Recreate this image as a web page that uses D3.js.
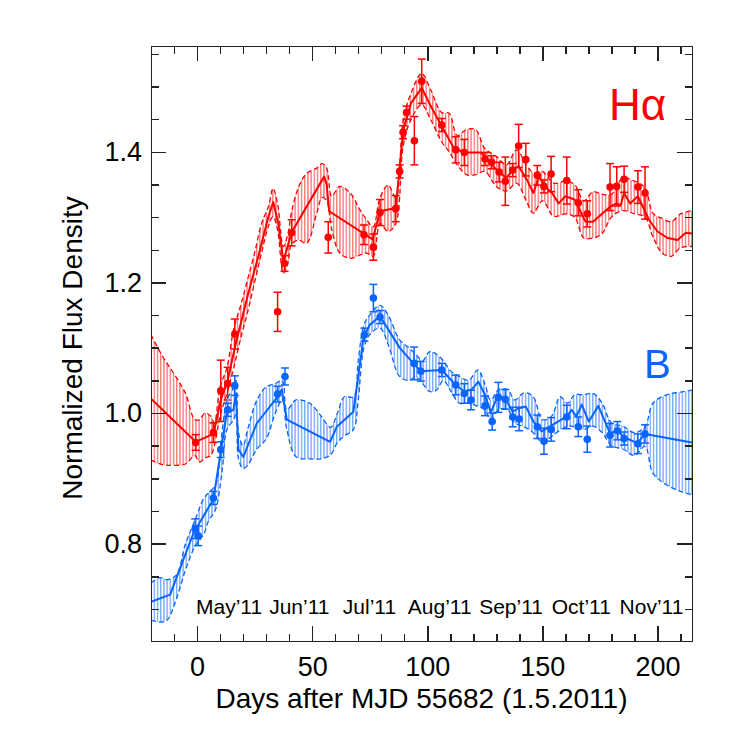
<!DOCTYPE html>
<html lang="en">
<head>
    <meta charset="UTF-8">
    <title>Normalized Flux Density</title>
    <script type="text/javascript" src="https://cdn.jsdelivr.net/npm/d3@7"></script>
    <style>
        body { margin: 0; background: #fff; }
        svg { font-family: "Liberation Sans", Arial, sans-serif; }
        .axis path, .axis line { fill: none; stroke: #222; stroke-width: 1.5; shape-rendering: crispEdges; }
        .axis text { font-size: 27px; fill: #000; }
    </style>
</head>
<body>
    <script type="text/javascript">
        // Halpha model curve
        let haLineDay = [-20, -0.6, 7.1, 10.3, 13.3, 16.4, 22, 27, 31, 33.1, 35.3, 37.5, 41.1, 55.2, 56.3, 57.4, 76.3, 79.5, 86.3, 89.6, 93, 97.6, 101.5, 106.3, 111.5, 116.1, 123.3, 127, 130.7, 134.4, 137.1, 139.7, 143.3, 146.1, 148.5, 151.2, 154.2, 157.1, 160, 164, 168.8, 172, 179.4, 182.3, 184, 185.5, 188.1, 191.5, 196.3, 200, 204.4, 208.7, 212.3, 215]
        let haLineVal = [1.022, 0.956, 0.968, 1.02, 1.05, 1.10, 1.18, 1.245, 1.301, 1.323, 1.29, 1.232, 1.277, 1.362, 1.35, 1.309, 1.266, 1.309, 1.314, 1.434, 1.475, 1.498, 1.47, 1.439, 1.406, 1.399, 1.399, 1.385, 1.370, 1.36, 1.372, 1.378, 1.357, 1.337, 1.362, 1.347, 1.337, 1.321, 1.332, 1.327, 1.293, 1.293, 1.316, 1.321, 1.318, 1.337, 1.321, 1.332, 1.296, 1.278, 1.268, 1.265, 1.276, 1.275]
        // Halpha uncertainty band
        let haBandDay = [-20, -15, -10, -5, -1, 1, 3.5, 6, 7.5, 10, 13, 16, 19, 22, 25, 28, 31, 33, 35, 37.5, 39.5, 41, 44, 47.6, 52, 54.3, 56.3, 58.5, 62, 66.5, 70.8, 73.7, 76.5, 79.5, 83, 86.3, 89.6, 93, 97.6, 101.5, 106.3, 109.5, 113, 117, 121, 125, 130, 134.4, 138.8, 143, 146.1, 150, 155, 160, 164, 168, 172, 176, 180, 185, 190, 194.6, 198, 202, 206, 210, 215]
        let haBandLo = [0.928, 0.921, 0.920, 0.922, 0.935, 0.925, 0.931, 0.935, 0.950, 0.995, 1.03, 1.07, 1.115, 1.155, 1.20, 1.245, 1.286, 1.301, 1.28, 1.214, 1.23, 1.258, 1.265, 1.260, 1.306, 1.33, 1.325, 1.281, 1.245, 1.237, 1.242, 1.245, 1.24, 1.29, 1.278, 1.29, 1.41, 1.45, 1.472, 1.449, 1.415, 1.40, 1.38, 1.365, 1.365, 1.37, 1.347, 1.34, 1.352, 1.325, 1.306, 1.325, 1.301, 1.305, 1.30, 1.268, 1.268, 1.275, 1.30, 1.31, 1.305, 1.30, 1.270, 1.245, 1.240, 1.253, 1.255]
        let haBandHi = [1.120, 1.087, 1.06, 1.03, 0.99, 0.99, 1.000, 0.995, 0.985, 1.04, 1.07, 1.13, 1.165, 1.205, 1.245, 1.29, 1.316, 1.344, 1.32, 1.255, 1.275, 1.307, 1.345, 1.367, 1.375, 1.382, 1.375, 1.332, 1.347, 1.337, 1.311, 1.296, 1.285, 1.33, 1.349, 1.33, 1.45, 1.49, 1.520, 1.495, 1.46, 1.459, 1.425, 1.434, 1.434, 1.405, 1.393, 1.38, 1.403, 1.38, 1.368, 1.37, 1.352, 1.355, 1.35, 1.325, 1.339, 1.335, 1.335, 1.36, 1.355, 1.345, 1.306, 1.298, 1.293, 1.305, 1.310]
        // Halpha measurements
        let haObsDay = [-0.6, 7.1, 10.3, 13.3, 16.4, 35, 38, 41.1, 57.0, 72.5, 76.6, 79.5, 86.3, 88, 89.5, 91, 94.4, 97.6, 106.3, 112.4, 116.1, 125.1, 128.0, 131.2, 133.9, 137.1, 139.7, 142.8, 147.8, 150.7, 153.8, 160.6, 165.6, 169.5, 179.4, 182.3, 185.5, 191.5, 194.6]
        let haObsVal = [0.955, 0.970, 1.034, 1.045, 1.121, 1.155, 1.229, 1.276, 1.269, 1.273, 1.254, 1.307, 1.313, 1.37, 1.43, 1.46, 1.417, 1.508, 1.441, 1.403, 1.399, 1.389, 1.384, 1.369, 1.355, 1.372, 1.409, 1.388, 1.364, 1.347, 1.366, 1.356, 1.322, 1.305, 1.346, 1.347, 1.358, 1.346, 1.337]
        let haObsErr = [0.012, 0.015, 0.047, 0.025, 0.023, 0.03, 0.012, 0.02, 0.024, 0.015, 0.02, 0.02, 0.02, 0.01, 0.01, 0.01, 0.037, 0.034, 0.01, 0.02, 0.02, 0.01, 0.01, 0.015, 0.037, 0.01, 0.033, 0.025, 0.015, 0.01, 0.027, 0.036, 0.02, 0.02, 0.036, 0.03, 0.02, 0.025, 0.04]

        // B model curve
        let bLineDay = [-20, -11.7, -1.6, 7.1, 12.9, 15.8, 16.9, 18, 20.1, 25.9, 35, 36.8, 39, 57.8, 60.7, 67.9, 72.3, 75, 79.5, 88.2, 94.3, 97.2, 106.3, 112.4, 116.1, 119.3, 122.2, 125.1, 127.6, 130.5, 133.9, 137.1, 139.5, 142.8, 146.1, 149.7, 152.6, 160.6, 162.7, 164.8, 167.1, 170.2, 174.3, 179.4, 182.6, 185.5, 191.3, 194.6, 215]
        let bLineVal = [0.711, 0.722, 0.816, 0.868, 1.000, 1.005, 1.03, 0.944, 0.933, 0.984, 1.025, 1.036, 0.990, 0.956, 0.979, 1.002, 1.115, 1.135, 1.148, 1.099, 1.075, 1.064, 1.066, 1.043, 1.033, 1.036, 1.048, 1.028, 1.001, 1.025, 1.022, 1.002, 1.007, 1.010, 0.987, 0.972, 0.978, 0.995, 1.005, 0.995, 1.013, 0.987, 1.011, 0.969, 0.973, 0.963, 0.954, 0.968, 0.955]
        // B uncertainty band
        let bBandDay = [-20, -16, -13, -9, -5, -1, 3, 5, 8, 11, 13, 16, 17, 18, 20, 22, 26, 30, 34, 37, 39, 43, 49, 54, 58, 61, 64, 68, 70, 72.5, 75, 79.5, 83, 88, 92, 95, 98, 101, 104, 107, 110, 114, 118, 122, 125, 127.5, 131, 135, 138, 142, 146, 150, 154, 157.7, 161, 164, 168, 172, 176, 180, 185, 190, 194.6, 198, 204, 210, 215]
        let bBandLo = [0.683, 0.680, 0.683, 0.715, 0.760, 0.795, 0.815, 0.835, 0.852, 0.915, 0.975, 0.99, 1.0, 0.93, 0.915, 0.92, 0.945, 0.96, 1.0, 1.02, 0.975, 0.933, 0.930, 0.930, 0.936, 0.955, 0.965, 0.975, 1.02, 1.10, 1.12, 1.13, 1.105, 1.056, 1.05, 1.055, 1.045, 1.033, 1.035, 1.05, 1.035, 1.015, 1.015, 1.010, 1.005, 0.990, 1.005, 1.005, 0.985, 0.979, 0.970, 0.955, 0.964, 0.974, 0.980, 0.979, 0.975, 0.980, 0.970, 0.950, 0.945, 0.935, 0.949, 0.908, 0.890, 0.880, 0.875]
        let bBandHi = [0.740, 0.748, 0.745, 0.752, 0.800, 0.835, 0.870, 0.878, 0.890, 0.975, 1.02, 1.04, 1.05, 0.97, 0.95, 0.975, 1.02, 1.04, 1.045, 1.05, 1.005, 1.02, 1.015, 0.995, 0.978, 1.0, 1.025, 1.025, 1.08, 1.135, 1.15, 1.165, 1.15, 1.112, 1.10, 1.09, 1.08, 1.094, 1.09, 1.08, 1.065, 1.056, 1.05, 1.066, 1.045, 1.020, 1.036, 1.036, 1.02, 1.031, 1.025, 0.99, 0.995, 1.025, 1.015, 1.028, 1.028, 1.03, 1.015, 0.985, 0.980, 0.970, 0.979, 1.015, 1.028, 1.032, 1.035]
        // B measurements
        let bObsDay = [-0.8, 0.5, 7.1, 10.3, 13.3, 16.4, 35, 38.2, 72.7, 76.6, 79.5, 94.3, 97.2, 106.3, 112.4, 116.1, 119, 125.1, 128.2, 130.9, 133.9, 137.1, 139.9, 147.8, 150.7, 153.8, 160.6, 165.6, 169.5, 179.4, 182.6, 185.5, 191.5, 194.6]
        let bObsVal = [0.823, 0.812, 0.870, 0.944, 1.005, 1.042, 1.029, 1.056, 1.120, 1.176, 1.147, 1.076, 1.064, 1.066, 1.043, 1.030, 1.020, 1.011, 0.987, 1.024, 1.021, 0.994, 0.991, 0.979, 0.957, 0.975, 0.994, 0.979, 0.960, 0.966, 0.973, 0.961, 0.953, 0.968]
        let bObsErr = [0.015, 0.015, 0.01, 0.012, 0.01, 0.015, 0.012, 0.013, 0.01, 0.021, 0.01, 0.025, 0.015, 0.01, 0.015, 0.015, 0.015, 0.015, 0.013, 0.023, 0.015, 0.015, 0.018, 0.018, 0.02, 0.018, 0.018, 0.015, 0.02, 0.018, 0.014, 0.01, 0.015, 0.014]

        let monthLabels = ["May’11", "Jun’11", "Jul’11", "Aug’11", "Sep’11", "Oct’11", "Nov’11"]
        let monthMid = [15, 45.5, 76, 106.5, 137.5, 168, 198.5]
        let xTicks = [0, 50, 100, 150, 200]
        let yTicks = [0.8, 1.0, 1.2, 1.4]

        let w = 737, h = 737
        let mLeft = 151, mRight = 692, mTop = 46, mBottom = 641

        let xScale = d3.scaleLinear().domain([-20, 215]).range([mLeft, mRight])
        let yScale = d3.scaleLinear().domain([0.651, 1.562]).range([mBottom, mTop])

        let svg = d3.select("body").append("svg")
            .attr("width", w)
            .attr("height", h)

        let defs = svg.append("defs")
        defs.append("clipPath").attr("id", "plotclip")
            .append("rect").attr("x", mLeft).attr("y", mTop)
            .attr("width", mRight - mLeft).attr("height", mBottom - mTop)

        function hatch(id, color) {
            let p = defs.append("pattern").attr("id", id)
                .attr("patternUnits", "userSpaceOnUse")
                .attr("width", 3.2).attr("height", 10)
            p.append("rect").attr("x", 0).attr("y", 0)
                .attr("width", 1.4).attr("height", 10).attr("fill", color)
        }
        hatch("hatchR", "#ff7a7a")
        hatch("hatchB", "#7aaaff")

        let plot = svg.append("g").attr("clip-path", "url(#plotclip)")

        function drawSeries(lineDay, lineVal, bandDay, bandLo, bandHi, obsDay, obsVal, obsErr, color, hatchId) {
            let band = bandDay.map((d, i) => ({ d: d, lo: bandLo[i], hi: bandHi[i] }))
            let curve = d3.curveCatmullRom.alpha(0.5)
            let area = d3.area()
                .x((p) => xScale(p.d))
                .y0((p) => yScale(p.lo))
                .y1((p) => yScale(p.hi))
                .curve(curve)
            plot.append("path").datum(band)
                .attr("d", area)
                .attr("fill", "url(#" + hatchId + ")")
            let edgeHi = d3.line().x((p) => xScale(p.d)).y((p) => yScale(p.hi)).curve(curve)
            let edgeLo = d3.line().x((p) => xScale(p.d)).y((p) => yScale(p.lo)).curve(curve)
            ;[edgeHi, edgeLo].forEach((gen) => {
                plot.append("path").datum(band)
                    .attr("d", gen)
                    .attr("fill", "none")
                    .attr("stroke", color)
                    .attr("stroke-width", 1.3)
                    .attr("stroke-dasharray", "5,3")
            })

            let pts = lineDay.map((d, i) => [d, lineVal[i]])
            plot.append("path").datum(pts)
                .attr("d", d3.line().x((p) => xScale(p[0])).y((p) => yScale(p[1])))
                .attr("fill", "none")
                .attr("stroke", color)
                .attr("stroke-width", 2)
                .attr("stroke-linejoin", "round")

            let obs = obsDay.map((d, i) => ({ d: d, v: obsVal[i], e: obsErr[i] }))
            let g = plot.append("g").attr("stroke", color).attr("stroke-width", 1.5)
            g.selectAll("line.bar").data(obs).enter().append("line")
                .attr("x1", (p) => xScale(p.d)).attr("x2", (p) => xScale(p.d))
                .attr("y1", (p) => yScale(p.v - p.e)).attr("y2", (p) => yScale(p.v + p.e))
            g.selectAll("line.capt").data(obs).enter().append("line")
                .attr("x1", (p) => xScale(p.d) - 4).attr("x2", (p) => xScale(p.d) + 4)
                .attr("y1", (p) => yScale(p.v + p.e)).attr("y2", (p) => yScale(p.v + p.e))
            g.selectAll("line.capb").data(obs).enter().append("line")
                .attr("x1", (p) => xScale(p.d) - 4).attr("x2", (p) => xScale(p.d) + 4)
                .attr("y1", (p) => yScale(p.v - p.e)).attr("y2", (p) => yScale(p.v - p.e))
            plot.append("g").selectAll("circle").data(obs).enter().append("circle")
                .attr("cx", (p) => xScale(p.d))
                .attr("cy", (p) => yScale(p.v))
                .attr("r", 3.8)
                .attr("fill", color)
        }

        drawSeries(haLineDay, haLineVal, haBandDay, haBandLo, haBandHi, haObsDay, haObsVal, haObsErr, "#ff0000", "hatchR")
        drawSeries(bLineDay, bLineVal, bBandDay, bBandLo, bBandHi, bObsDay, bObsVal, bObsErr, "#0a64ff", "hatchB")

        // month labels
        svg.selectAll("text.month").data(monthLabels).enter().append("text")
            .attr("class", "month")
            .attr("x", (d, i) => xScale(monthMid[i]) - 2.5)
            .attr("y", 614)
            .attr("text-anchor", "middle")
            .attr("font-size", "21px")
            .text((d) => d)

        // axes: major and minor ticks on all four sides, pointing inward
        let xMinor = d3.range(-20, 216, 10)
        let yMinor = d3.range(0.7, 1.56, 0.05)

        svg.append("g").attr("class", "axis")
            .attr("transform", "translate(0," + mBottom + ")")
            .call(d3.axisBottom(xScale).tickValues(xMinor).tickSizeInner(-7.5).tickSizeOuter(0).tickFormat(""))
        svg.append("g").attr("class", "axis")
            .attr("transform", "translate(0," + mBottom + ")")
            .call(d3.axisBottom(xScale).tickValues(xTicks).tickSizeInner(-15).tickSizeOuter(0).tickPadding(16).tickFormat(d3.format("d")))
        svg.append("g").attr("class", "axis")
            .attr("transform", "translate(0," + mTop + ")")
            .call(d3.axisTop(xScale).tickValues(xMinor).tickSizeInner(-7.5).tickSizeOuter(0).tickFormat(""))
        svg.append("g").attr("class", "axis")
            .attr("transform", "translate(0," + mTop + ")")
            .call(d3.axisTop(xScale).tickValues(xTicks).tickSizeInner(-15).tickSizeOuter(0).tickFormat(""))

        svg.append("g").attr("class", "axis")
            .attr("transform", "translate(" + mLeft + ",0)")
            .call(d3.axisLeft(yScale).tickValues(yMinor).tickSizeInner(-7.5).tickSizeOuter(0).tickFormat(""))
        svg.append("g").attr("class", "axis")
            .attr("transform", "translate(" + mLeft + ",0)")
            .call(d3.axisLeft(yScale).tickValues(yTicks).tickSizeInner(-15).tickSizeOuter(0).tickPadding(9).tickFormat(d3.format(".1f")))
        svg.append("g").attr("class", "axis")
            .attr("transform", "translate(" + mRight + ",0)")
            .call(d3.axisRight(yScale).tickValues(yMinor).tickSizeInner(-7.5).tickSizeOuter(0).tickFormat(""))
        svg.append("g").attr("class", "axis")
            .attr("transform", "translate(" + mRight + ",0)")
            .call(d3.axisRight(yScale).tickValues(yTicks).tickSizeInner(-15).tickSizeOuter(0).tickFormat(""))

        // series labels
        svg.append("text").attr("x", 609).attr("y", 120)
            .attr("font-size", "44px").attr("fill", "#ff0000").text("Hα")
        svg.append("text").attr("x", 644).attr("y", 378)
            .attr("font-size", "40px").attr("fill", "#0a64ff").text("B")

        // axis titles
        svg.append("text")
            .attr("x", (mLeft + mRight) / 2).attr("y", 708)
            .attr("text-anchor", "middle").attr("font-size", "28px")
            .text("Days after MJD 55682 (1.5.2011)")
        svg.append("text")
            .attr("transform", "translate(82," + 348 + ") rotate(-90)")
            .attr("text-anchor", "middle").attr("font-size", "28px")
            .text("Normalized Flux Density")
    </script>
</body>
</html>
